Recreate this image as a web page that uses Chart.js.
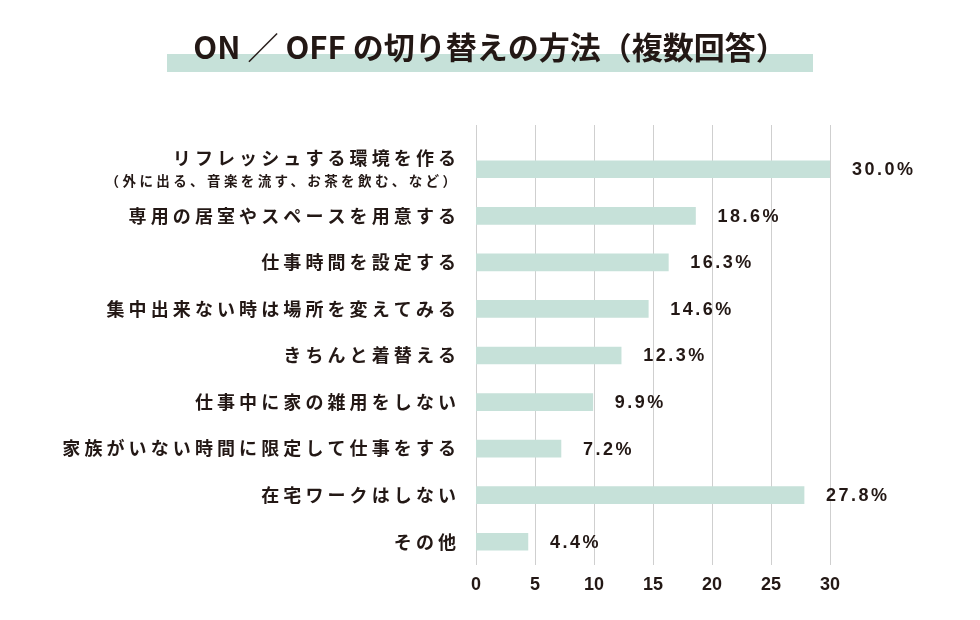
<!DOCTYPE html>
<html lang="ja">
<head>
<meta charset="utf-8">
<script src="https://cdn.jsdelivr.net/npm/chart.js@4"></script>
<style>
  html, body { margin: 0; padding: 0; background: #fff; }
  #wrap { width: 980px; height: 620px; }
</style>
</head>
<body>
<div id="wrap"><canvas id="chart" width="980" height="620"></canvas></div>
<script>
// chart data
const chartTitle = "ON ／ OFF の切り替えの方法（複数回答）";
const categories = [
    ["リフレッシュする環境を作る", "（外に出る、音楽を流す、お茶を飲む、など）"],
    "専用の居室やスペースを用意する",
    "仕事時間を設定する",
    "集中出来ない時は場所を変えてみる",
    "きちんと着替える",
    "仕事中に家の雑用をしない",
    "家族がいない時間に限定して仕事をする",
    "在宅ワークはしない",
    "その他"
];
const values = [30.0, 18.6, 16.3, 14.6, 12.3, 9.9, 7.2, 27.8, 4.4];
const xTicks = [0, 5, 10, 15, 20, 25, 30];

const barColor = "#c6e1d9";
const textColor = "#231815";
const jpFont = "'Noto Sans CJK JP', 'Noto Sans', sans-serif";
const numFont = "'Liberation Sans', Arial, sans-serif";

// Title with band behind it
const titlePlugin = {
    id: "titleBand",
    beforeDraw(chart) {
        const ctx = chart.ctx;
        ctx.save();
        ctx.fillStyle = barColor;
        ctx.fillRect(167, 54, 646, 18);
        ctx.fillStyle = textColor;
        ctx.font = "bold 31px " + jpFont;
        ctx.textAlign = "center";
        ctx.textBaseline = "middle";
        ctx.fillText(chartTitle, 490, 47);
        ctx.restore();
    }
};

// Vertical grid lines reaching above the first bar
const gridPlugin = {
    id: "tallGrid",
    beforeDatasetsDraw(chart) {
        const ctx = chart.ctx;
        const xs = chart.scales.x;
        const area = chart.chartArea;
        ctx.save();
        ctx.strokeStyle = "#cfcfcf";
        ctx.lineWidth = 1;
        xTicks.forEach(t => {
            const x = Math.round(xs.getPixelForValue(t)) + 0.5;
            ctx.beginPath();
            ctx.moveTo(x, area.top - 21);
            ctx.lineTo(x, area.bottom);
            ctx.stroke();
        });
        ctx.restore();
    }
};

// Category labels (letter spaced) and value labels
const labelPlugin = {
    id: "labels",
    afterDatasetsDraw(chart) {
        const ctx = chart.ctx;
        const ys = chart.scales.y;
        const xs = chart.scales.x;
        const right = chart.chartArea.left - 20;
        ctx.save();
        ctx.fillStyle = textColor;
        ctx.textAlign = "right";
        ctx.textBaseline = "middle";
        categories.forEach((label, i) => {
            const y = ys.getPixelForValue(i);
            if (Array.isArray(label)) {
                ctx.font = "bold 18px " + jpFont;
                ctx.letterSpacing = "4.1px";
                ctx.fillText(label[0], right + 4.1, y - 11);
                ctx.font = "bold 13.5px " + jpFont;
                ctx.letterSpacing = "3.4px";
                ctx.fillText(label[1], right + 3.4, y + 12);
            } else {
                ctx.font = "bold 18px " + jpFont;
                ctx.letterSpacing = "4.1px";
                ctx.fillText(label, right + 4.1, y);
            }
        });
        ctx.textAlign = "left";
        ctx.font = "bold 18px " + numFont;
        ctx.letterSpacing = "2.5px";
        values.forEach((v, i) => {
            const y = ys.getPixelForValue(i);
            ctx.fillText(v.toFixed(1) + "%", xs.getPixelForValue(v) + 22, y + 1);
        });
        ctx.restore();
    }
};

new Chart(document.getElementById("chart").getContext("2d"), {
    type: "bar",
    data: {
        labels: categories,
        datasets: [{
            data: values,
            backgroundColor: barColor,
            borderWidth: 0,
            barThickness: 17
        }]
    },
    options: {
        indexAxis: "y",
        responsive: false,
        animation: false,
        layout: { padding: { left: 476, right: 150, top: 146, bottom: 0 } },
        plugins: {
            legend: { display: false },
            tooltip: { enabled: false }
        },
        scales: {
            x: {
                min: 0,
                max: 30,
                afterBuildTicks: s => { s.ticks = xTicks.map(v => ({ value: v })); },
                afterFit: s => { s.height = 55; },
                grid: { display: false },
                border: { display: false },
                ticks: {
                    color: textColor,
                    font: { family: numFont, size: 18, weight: "bold" },
                    padding: 1
                }
            },
            y: {
                display: false,
                offset: true
            }
        }
    },
    plugins: [titlePlugin, gridPlugin, labelPlugin]
});
</script>
</body>
</html>
